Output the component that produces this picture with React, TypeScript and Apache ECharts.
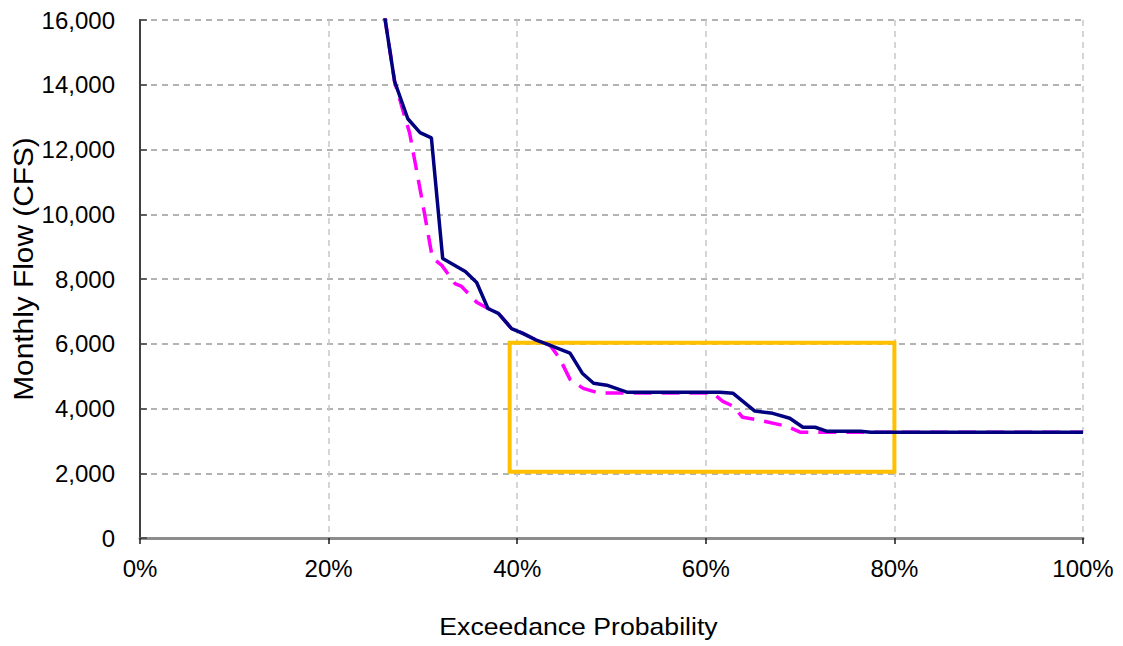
import React, { useEffect, useRef } from "react";
import * as echarts from "echarts";

// Exceedance probability (%) and monthly flow (CFS)
const blueX = [25.7, 26.0, 27.0, 28.4, 29.7, 30.9, 32.1, 34.5, 35.7, 36.9, 38.0, 39.4, 40.6, 41.9, 43.5, 45.6, 46.9, 48.1, 49.5, 51.7, 61.5, 62.9, 65.2, 67.1, 68.9, 70.3, 71.6, 72.8, 76.4, 77.5, 100];
const blueY = [17000, 16000, 14100, 12950, 12520, 12360, 8630, 8230, 7890, 7090, 6940, 6470, 6320, 6130, 5950, 5710, 5090, 4780, 4720, 4500, 4500, 4470, 3920, 3850, 3700, 3420, 3420, 3300, 3300, 3270, 3270];

const magentaX = [25.7, 26.0, 27.0, 27.8, 28.6, 30.0, 31.0, 32.0, 33.4, 34.1, 35.7, 36.9, 38.0, 39.4, 40.6, 41.9, 43.5, 44.5, 45.6, 47.0, 48.6, 60.7, 61.8, 62.9, 63.9, 65.7, 68.6, 70.0, 100];
const magentaY = [17000, 16000, 14100, 13290, 12500, 10300, 8660, 8420, 7860, 7770, 7280, 7090, 6940, 6470, 6320, 6130, 5950, 5550, 4900, 4620, 4480, 4480, 4220, 4070, 3730, 3640, 3450, 3270, 3270];

// Highlight box extent
const boxX = [39.2, 80];
const boxY = [2050, 6030];

const xTicks = { min: 0, max: 100, interval: 20 };
const yTicks = { min: 0, max: 16000, interval: 2000 };

const FONT = "Liberation Sans, Arial, sans-serif";

export default function App() {
  const ref = useRef<HTMLDivElement>(null);
  useEffect(() => {
    if (!ref.current) return;
    const chart = echarts.init(ref.current, undefined, { renderer: "svg" });
    const blue = blueX.map((x, i) => [x, blueY[i]]);
    const magenta = magentaX.map((x, i) => [x, magentaY[i]]);
    chart.setOption({
      animation: false,
      backgroundColor: "#ffffff",
      grid: { left: 140, right: 40, top: 20, bottom: 108 },
      xAxis: [
        {
          type: "value",
          position: "bottom",
          min: xTicks.min,
          max: xTicks.max,
          interval: xTicks.interval,
          axisLine: { show: true, onZero: false, lineStyle: { color: "#1a1a1a", width: 2 } },
          axisTick: { show: true, inside: false, length: 6, lineStyle: { color: "#1a1a1a", width: 1.5 } },
          axisLabel: {
            formatter: "{value}%",
            fontSize: 24,
            fontFamily: FONT,
            color: "#000",
            margin: 18,
          },
          splitLine: { show: true, lineStyle: { color: "#c8c8c8", type: [6, 5], width: 1.5 } },
        },
        {
          type: "value",
          position: "top",
          min: xTicks.min,
          max: xTicks.max,
          interval: xTicks.interval,
          axisLine: { show: true, lineStyle: { color: "#8c8c8c", width: 3 } },
          axisTick: { show: false },
          axisLabel: { show: false },
          splitLine: { show: false },
        },
      ],
      yAxis: [
        {
          type: "value",
          position: "left",
          min: yTicks.min,
          max: yTicks.max,
          interval: yTicks.interval,
          axisLine: { show: true, lineStyle: { color: "#8c8c8c", width: 2 } },
          axisTick: { show: false },
          axisLabel: {
            formatter: (v: number) => v.toLocaleString("en-US"),
            fontSize: 24,
            fontFamily: FONT,
            color: "#000",
            margin: 25,
          },
          splitLine: { show: true, lineStyle: { color: "#9a9a9a", type: [6, 5], width: 1.5 } },
        },
        {
          type: "value",
          position: "right",
          min: yTicks.min,
          max: yTicks.max,
          interval: yTicks.interval,
          axisLine: { show: true, lineStyle: { color: "#404040", width: 2 } },
          axisTick: { show: true, inside: false, length: 7, lineStyle: { color: "#404040", width: 1.5 } },
          axisLabel: { show: false },
          splitLine: { show: false },
        },
      ],
      series: [
        {
          type: "line",
          name: "box",
          data: [],
          z: 1,
          markArea: {
            silent: true,
            itemStyle: { color: "rgba(0,0,0,0)", borderColor: "#FFC000", borderWidth: 4 },
            data: [[{ coord: [boxX[0], boxY[1]] }, { coord: [boxX[1], boxY[0]] }]],
          },
        },
        {
          type: "line",
          name: "Alternative",
          data: magenta,
          showSymbol: false,
          symbol: "none",
          z: 3,
          lineStyle: { color: "#FF00FF", width: 3.5, type: [18, 10] },
        },
        {
          type: "line",
          name: "Base",
          data: blue,
          showSymbol: false,
          symbol: "none",
          z: 4,
          lineStyle: { color: "#000080", width: 3.5 },
        },
      ],
      graphic: [
        {
          type: "text",
          x: 578.5,
          y: 626,
          scaleX: 1.11,
          style: {
            text: "Exceedance Probability",
            fontSize: 24,
            fontFamily: FONT,
            fill: "#000",
            align: "center",
            verticalAlign: "middle",
          },
        },
        {
          type: "text",
          x: 23,
          y: 269,
          rotation: Math.PI / 2,
          scaleX: 1.066,
          style: {
            text: "Monthly Flow (CFS)",
            fontSize: 28,
            fontFamily: FONT,
            fill: "#000",
            align: "center",
            verticalAlign: "middle",
          },
        },
      ],
    });
    return () => chart.dispose();
  }, []);
  return (
    <div
      ref={ref}
      style={{ position: "fixed", left: 0, top: 0, width: 1123, height: 646 }}
    />
  );
}
